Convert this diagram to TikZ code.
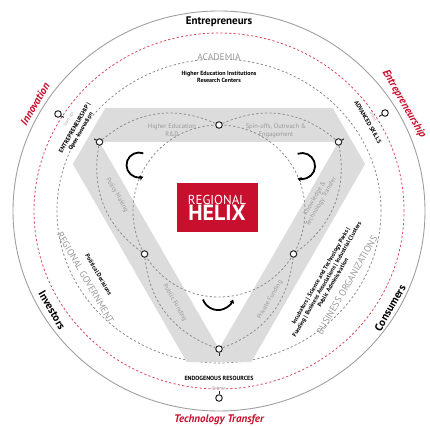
\documentclass[tikz,border=0pt]{standalone}
\usepackage{fontspec}
\setmainfont{PT Sans}
\usetikzlibrary{arrows.meta}
\definecolor{helixred}{HTML}{C8102E}
\definecolor{bandgray}{HTML}{DCDCDC}
\definecolor{dashgray}{HTML}{8C8C8C}
\definecolor{softred}{HTML}{D9475A}
\definecolor{labelgray}{HTML}{9A9A9A}

\begin{document}
\begin{tikzpicture}[x=1pt, y=1pt,
    ring/.style={circle, draw=black!85, line width=1pt, fill=white, inner sep=0pt, minimum size=6.5pt},
    stem/.style={black!85, line width=1pt},
    orbit/.style={dashgray, line width=0.8pt, dash pattern=on 2.2pt off 2.2pt},
    redorbit/.style={softred, line width=0.8pt, dash pattern=on 2.2pt off 2.2pt},
    actor/.style={font=\bfseries\fontsize{11}{12}\selectfont},
    flow/.style={text=helixred, font=\bfseries\itshape\fontsize{11}{12}\selectfont},
    sphere/.style={text=labelgray, font=\fontsize{9.5}{10}\selectfont},
    detail/.style={font=\bfseries\fontsize{6}{7}\selectfont, align=center, inner sep=0pt},
    bandtext/.style={text=labelgray, font=\fontsize{6.5}{7.5}\selectfont, align=center, inner sep=0pt},
    tiny/.style={text=labelgray, font=\fontsize{4}{4.5}\selectfont, inner sep=0pt},
    turn/.style={line width=1.8pt, -{Stealth[length=4pt, width=5pt]}}
]
\useasboundingbox (-219,211) rectangle (211,-216);

% rings
\draw[gray!75, line width=0.9pt] (0,0) ellipse [x radius=206, y radius=200];
\draw[redorbit] (0,0) ellipse [x radius=185, y radius=178];
\draw[orbit] (0,0) ellipse [x radius=162, y radius=152];

% triangle band
\fill[bandgray, even odd rule] (-32.3,-151) -- (32.3,-151) -- (146.1,47) -- (113.7,103)
    -- (-113.7,103) -- (-146.1,47) -- cycle
    (0,-138) -- (119.5,69) -- (-119.5,69) -- cycle;
\draw[orbit] (0,0) circle (86);

% markers
\node[ring] (vtl) at (-119.5,69) {};
\node[ring] (vtr) at (119.5,69) {};
\node[ring] (vb) at (0,-138) {};
\node[ring] (mt) at (90:86) {};
\node[ring] (ml) at (210:86) {};
\node[ring] (mr) at (330:86) {};
\node[ring] (otl) at (-161,97) {};
\node[ring] (otr) at (166,98) {};
\node[ring] (ob) at (0,-187) {};

\draw[stem] (vtl.150) -- ++(150:2.5);
\draw[stem] (vtr.30) -- ++(30:2.5);
\draw[stem] (vb.south) -- ++(0,-3);
\draw[stem] (otl.-30) -- ++(-30:3);
\draw[stem] (otr.210) -- ++(210:3);
\draw[stem] (ob.north) -- ++(0,3);

\draw[orbit] (vtl) to[bend left=32] (mt);
\draw[orbit] (mt) to[bend left=32] (vtr);
\draw[orbit] (vtr) to[bend left=32] (mr);
\draw[orbit] (mr) to[bend left=32] (vb);
\draw[orbit] (vb) to[bend left=32] (ml);
\draw[orbit] (ml) to[bend left=32] (vtl);

% centre
\node[fill=helixred, text=white, minimum width=81, minimum height=49, inner sep=0pt, align=center] (core) at (-2,3)
    {{\fontsize{13}{13}\selectfont REGIONAL}\\[-1pt]{\bfseries\fontsize{22}{20}\selectfont HELIX}};

\draw[turn] (-75.7,57.7) arc[start angle=70, end angle=290, radius=12.5];
\draw[turn] (78.6,57.2) arc[start angle=110, end angle=-110, radius=13];
\draw[turn] (-16,-88.5) arc[start angle=200, end angle=340, radius=16];

% band labels
\node[bandtext] (hed) at (-47,81) {Higher Education\\R\&D};
\node[bandtext] (spin) at (57,80) {Spin-offs, Outreach \&\\Engagement};
\node[bandtext, rotate=-60] (pol) at (-102,16) {Policy Making};
\node[bandtext, rotate=-60] (pub) at (-44,-92) {Public Funding};
\node[bandtext, rotate=60] (know) at (99,11) {Knowledge \&\\Technology Transfer};
\node[bandtext, rotate=60] (priv) at (51,-89) {Private Funding};

% spheres
\node[sphere] (acad) at (0,154) {ACADEMIA};
\node[detail] (acadx) at (0,134.5) {Higher Education Institutions\\Research Centers};
\node[sphere, rotate=-60] (gov) at (-133.5,-66.7) {REGIONAL GOVERNMENT};
\node[detail, rotate=-60] (govx) at (-120.3,-63.7) {Political Decisions};
\node[sphere, rotate=60] (org) at (128,-74) {BUSINESS ORGANIZATIONS};
\node[detail, rotate=60] (orgx) at (107.8,-68.3)
    {Incubators | Science and Technology Parks |\\Funding | Business Associations | Industrial Clusters\\Public Administration};

% corners
\node[detail, rotate=60] (open) at (-141,81) {ENTREPRENEURSHIP |\\Open Innovation};
\node[detail, rotate=-60] (skill) at (149,89) {ADVANCED SKILLS};
\node[detail] (endo) at (0,-167) {ENDOGENOUS RESOURCES};
\node[tiny, rotate=60] (startup) at (-150,92) {Start-ups};
\node[tiny, rotate=-60] (talent) at (154,95) {Talent};
\node[tiny] (patent) at (0,-177) {Patents};

% actors and flows
\node[actor] (entre) at (0,189) {Entrepreneurs};
\node[actor, rotate=-60] (inv) at (-167,-99) {Investors};
\node[actor, rotate=60] (cons) at (171,-97) {Consumers};
\node[flow, rotate=60] (innov) at (-184,107) {Innovation};
\node[flow, rotate=-60] (entship) at (185,107) {Entrepreneurship};
\node[flow] (tech) at (0,-209) {Technology Transfer};
\end{tikzpicture}
\end{document}
